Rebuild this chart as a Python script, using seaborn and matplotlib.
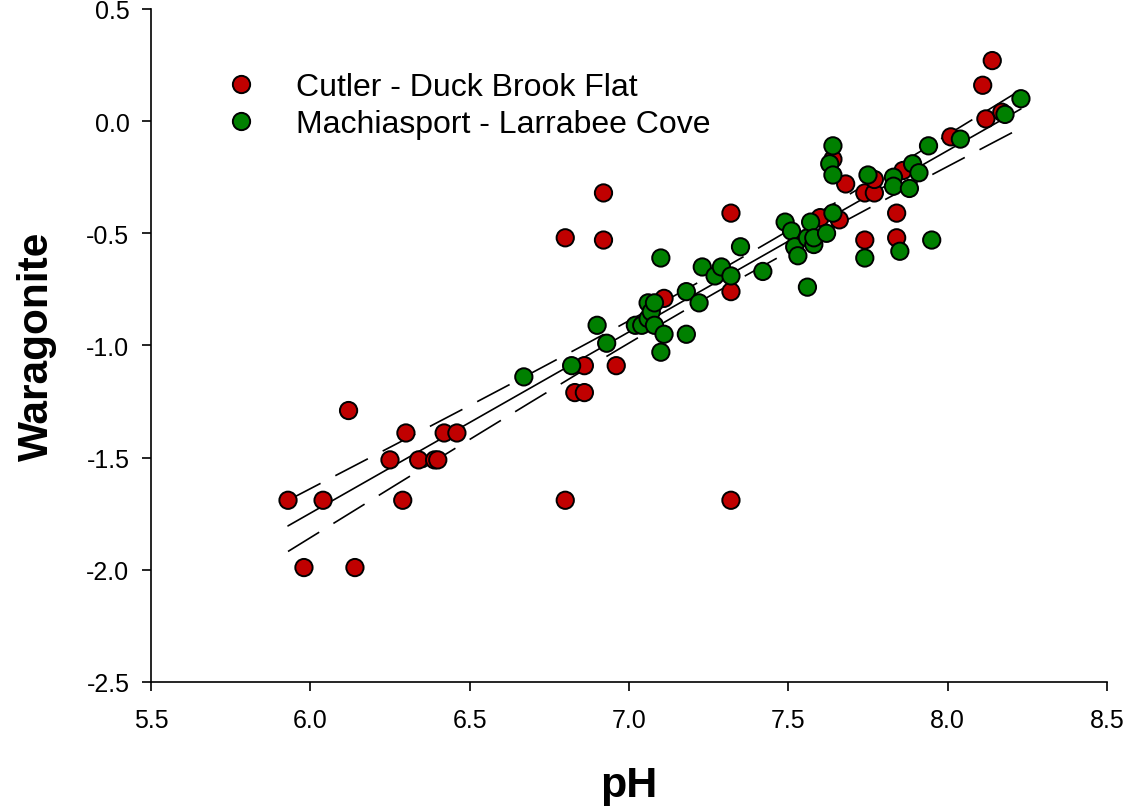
"""
Omega aragonite vs pH for two Maine mudflat sites, with a linear fit
and its 95% confidence band (dashed).
"""

import numpy as np
import pandas as pd
import matplotlib
matplotlib.use("Agg")
import matplotlib.pyplot as plt
import seaborn as sns

# Cutler - Duck Brook Flat
cutler_ph = [5.93, 5.98, 6.04, 6.12, 6.14, 6.25, 6.29, 6.30, 6.34, 6.39,
             6.40, 6.42, 6.46, 6.80, 6.80, 6.83, 6.86, 6.86, 6.92, 6.92,
             6.96, 7.11, 7.32, 7.32, 7.32, 7.60, 7.64, 7.66, 7.68, 7.74,
             7.74, 7.77, 7.77, 7.84, 7.84, 7.86, 8.01, 8.11, 8.12, 8.14,
             8.17]
cutler_omega = [-1.69, -1.99, -1.69, -1.29, -1.99, -1.51, -1.69, -1.39, -1.51, -1.51,
                -1.51, -1.39, -1.39, -1.69, -0.52, -1.21, -1.21, -1.09, -0.32, -0.53,
                -1.09, -0.79, -0.41, -0.76, -1.69, -0.43, -0.17, -0.44, -0.28, -0.32,
                -0.53, -0.32, -0.26, -0.41, -0.52, -0.22, -0.07, 0.16, 0.01, 0.27,
                0.04]

# Machiasport - Larrabee Cove
machias_ph = [6.67, 6.82, 6.90, 6.93, 7.02, 7.04, 7.06, 7.06, 7.07, 7.08,
              7.08, 7.10, 7.10, 7.11, 7.18, 7.18, 7.22, 7.23, 7.27, 7.29,
              7.32, 7.35, 7.42, 7.49, 7.51, 7.52, 7.53, 7.56, 7.56, 7.57,
              7.58, 7.58, 7.62, 7.64, 7.63, 7.64, 7.64, 7.74, 7.75, 7.83,
              7.83, 7.85, 7.88, 7.89, 7.91, 7.94, 7.95, 8.04, 8.18, 8.23]
machias_omega = [-1.14, -1.09, -0.91, -0.99, -0.91, -0.91, -0.88, -0.81, -0.85, -0.81,
                 -0.91, -0.61, -1.03, -0.95, -0.76, -0.95, -0.81, -0.65, -0.69, -0.65,
                 -0.69, -0.56, -0.67, -0.45, -0.49, -0.56, -0.60, -0.52, -0.74, -0.45,
                 -0.55, -0.52, -0.50, -0.41, -0.19, -0.11, -0.24, -0.61, -0.24, -0.25,
                 -0.29, -0.58, -0.30, -0.19, -0.23, -0.11, -0.53, -0.08, 0.03, 0.10]

site_names = ["Cutler - Duck Brook Flat", "Machiasport - Larrabee Cove"]
site_colors = ["#C00000", "#008000"]

x_ticks = [5.5, 6.0, 6.5, 7.0, 7.5, 8.0, 8.5]
y_ticks = [-2.5, -2.0, -1.5, -1.0, -0.5, 0.0, 0.5]


def fit_with_ci(x, y, n_pts=200):
    """Least-squares line plus 95% confidence band of the mean."""
    x = np.asarray(x)
    y = np.asarray(y)
    n = len(x)
    slope, intercept = np.polyfit(x, y, 1)
    resid = y - (slope * x + intercept)
    s = np.sqrt(np.sum(resid ** 2) / (n - 2))
    xs = np.linspace(x.min(), x.max(), n_pts)
    ys = slope * xs + intercept
    sxx = np.sum((x - x.mean()) ** 2)
    se = s * np.sqrt(1.0 / n + (xs - x.mean()) ** 2 / sxx)
    t = 1.984  # t(0.975, ~100 df)
    return xs, ys, ys - t * se, ys + t * se


df = pd.concat([
    pd.DataFrame({"pH": cutler_ph, "omega": cutler_omega, "site": site_names[0]}),
    pd.DataFrame({"pH": machias_ph, "omega": machias_omega, "site": site_names[1]}),
], ignore_index=True)

sns.set_theme(style="ticks")
plt.rcParams["font.family"] = ["Liberation Sans", "DejaVu Sans"]
plt.rcParams["axes.unicode_minus"] = False
for key in ("text.color", "axes.labelcolor", "xtick.color", "ytick.color",
            "xtick.labelcolor", "ytick.labelcolor", "axes.edgecolor"):
    plt.rcParams[key] = "black"

fig = plt.figure(figsize=(11.26, 8.12), dpi=100)
ax = fig.add_axes([0.1341, 0.1589, 0.8490, 0.8288])

xs, ys, lo, hi = fit_with_ci(df["pH"], df["omega"])
ax.plot(xs, ys, color="black", lw=1.2, zorder=1)
for band in (lo, hi):
    ax.plot(xs, band, color="black", lw=1.2, dashes=(22, 10), zorder=1)

sns.scatterplot(
    data=df, x="pH", y="omega", hue="site",
    palette=dict(zip(site_names, site_colors)),
    s=155, edgecolor="black", linewidth=1.4, ax=ax, zorder=3,
)

ax.set_xlim(5.5, 8.5)
ax.set_ylim(-2.5, 0.5)
ax.set_xticks(x_ticks)
ax.set_yticks(y_ticks)
ax.set_xticklabels([f"{v:.1f}" for v in x_ticks])
ax.set_yticklabels([f"{v:.1f}" for v in y_ticks])
ax.tick_params(axis="both", direction="out", length=6.5, width=1.2,
               labelsize=18, colors="black")
ax.tick_params(axis="x", pad=12)
ax.tick_params(axis="y", pad=9)
for side in ("left", "bottom"):
    ax.spines[side].set_linewidth(1.2)
sns.despine(ax=ax)

ax.set_xlabel("pH", fontsize=31, fontweight="bold")
ax.set_ylabel("Waragonite", fontsize=30.5, fontweight="bold")
ax.xaxis.set_label_coords(0.5, -0.124)
ax.yaxis.set_label_coords(-0.098, 0.5)

leg = ax.legend(
    loc="upper left", bbox_to_anchor=(0.047, 0.925), frameon=False,
    fontsize=23, handletextpad=0.72, labelspacing=0.22, markerscale=1.0,
    borderaxespad=0,
)

fig.savefig("out.png", dpi=100)
